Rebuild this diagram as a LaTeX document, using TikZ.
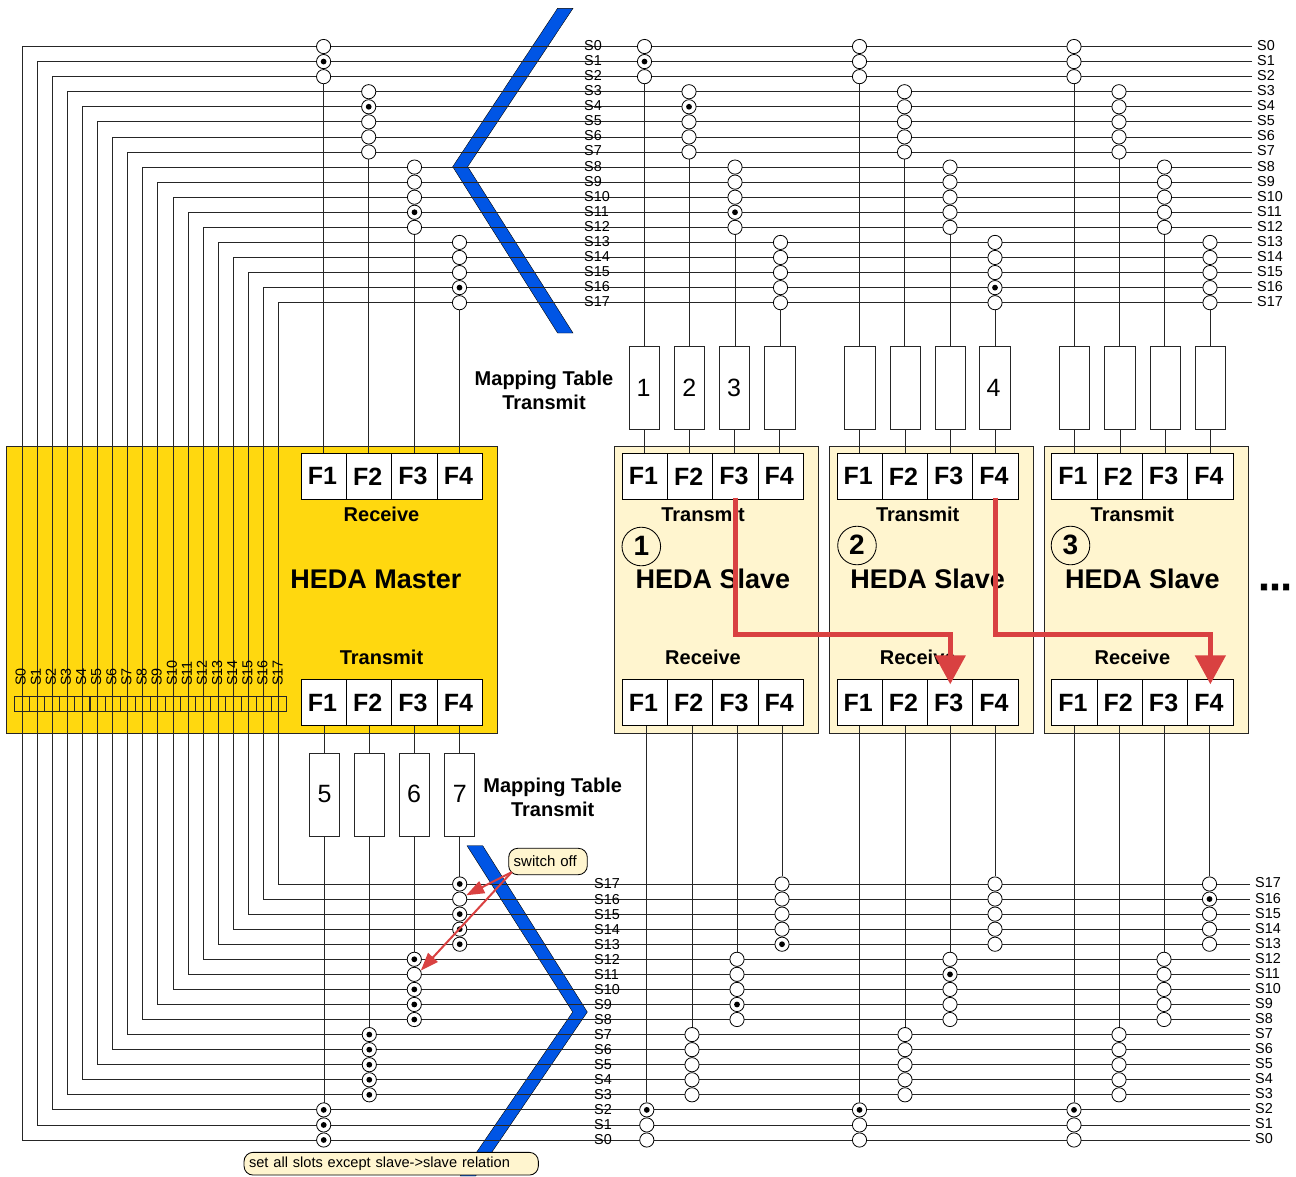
\documentclass[tikz,border=0pt]{standalone}
\usepackage{fontspec}
\setmainfont{Liberation Sans}
\usetikzlibrary{arrows.meta}
\pgfdeclarelayer{bg}
\pgfdeclarelayer{wires}
\pgfsetlayers{bg,wires,main}
\definecolor{masterfill}{RGB}{255,216,15}
\definecolor{slavefill}{RGB}{255,245,207}
\definecolor{chevblue}{RGB}{0,85,229}
\definecolor{arrowred}{RGB}{217,65,65}
\tikzset{
  wire/.style={line width=0.85pt,black!85},
  slot/.style={circle,draw=black,line width=0.8pt,fill=white,minimum size=14.2pt,inner sep=0pt},
  fcell/.style={rectangle,draw=black,line width=0.85pt,fill=white,minimum width=45.3pt,minimum height=46pt,inner sep=0pt,font=\fontsize{25}{25}\selectfont\bfseries},
  mapbox/.style={rectangle,draw=black!85,line width=0.85pt,fill=white,minimum width=30.4pt,minimum height=83pt,inner sep=0pt,font=\fontsize{25}{25}\selectfont},
  bigbox/.style={rectangle,draw=black!85,line width=0.85pt,anchor=north west,inner sep=0pt},
  stripcell/.style={rectangle,draw=black!85,line width=0.7pt,minimum width=15.1pt,minimum height=15.3pt,inner sep=0pt},
  slabel/.style={font=\fontsize{14.4}{14}\selectfont,inner ysep=0pt,inner xsep=0pt,anchor=west},
  rlabel/.style={font=\fontsize{14.4}{14}\selectfont,inner ysep=0pt,inner xsep=5pt,anchor=west},
  striplabel/.style={font=\fontsize{14.4}{14}\selectfont,inner sep=0pt,rotate=90,anchor=west},
  btext/.style={font=\fontsize{20}{20}\selectfont\bfseries,inner sep=0pt},
  bigtext/.style={font=\fontsize{27}{27}\selectfont\bfseries,inner sep=0pt},
  maptext/.style={font=\fontsize{20}{24}\selectfont\bfseries,inner sep=0pt,align=center},
  numcircle/.style={circle,draw=black,line width=0.85pt,minimum size=38.6pt,inner sep=0pt,font=\fontsize{28}{28}\selectfont\bfseries},
  callout/.style={rectangle,rounded corners=9pt,draw=black,line width=0.85pt,fill=slavefill,inner xsep=5pt,inner ysep=0pt,align=left},
  chevron/.style={fill=chevblue,draw=black,line width=0.4pt},
  thinred/.style={arrowred,line width=2pt,-{Triangle[width=13pt,length=18pt]}},
  thickred/.style={arrowred,line width=5pt,line join=miter,-{Triangle[width=30pt,length=29pt]}},
}
% top block of slot circles
\newcommand\topblock[5]{%
  \foreach \a/\b/\cx in {0/2/#2,3/7/#3,8/12/#4,13/17/#5}{%
    \foreach \i in {\a,...,\b}{\node[slot] (#1-\i) at (\cx,{46.5+15.07*\i}) {};}}}
\newcommand\botblock[5]{%
  \foreach \a/\b/\cx in {0/2/#2,3/7/#3,8/12/#4,13/17/#5}{%
    \foreach \i in {\a,...,\b}{\node[slot] (#1-\i) at (\cx,{1140-15.06*\i}) {};}}}
% row of four F cells, #1 name, #2 left x, #3 centre y
\newcommand\frow[3]{%
  \foreach \k in {1,2,3,4}{\node[fcell] (#1-\k) at ({#2+45.3*(\k-0.5)},#3) {F\k\kern3pt};}}
\newcommand\upd[1]{\raisebox{2pt}{#1}}
\begin{document}
\begin{tikzpicture}[x=1pt,y=-1pt]
\useasboundingbox (0,0) rectangle (1296,1176);

% ---------- background shapes
\begin{pgfonlayer}{bg}
  \fill[white] (0,0) rectangle (1296,1176);
  \path[chevron] (557.6,8.3) -- (573,8.3) -- (467.7,166.7) -- (573,333) -- (557.6,333) -- (452.7,166.7) -- cycle;
  \path[chevron] (467,845.7) -- (482.7,845.7) -- (587.3,1012) -- (475.6,1176) -- (460.3,1176) -- (572.7,1012) -- cycle;
  \node[bigbox,fill=masterfill,minimum width=491pt,minimum height=286.7pt] (master) at (6.2,446) {};
  \node[bigbox,fill=slavefill,minimum width=203.4pt,minimum height=286.7pt] (slave1) at (614.2,446) {};
  \node[bigbox,fill=slavefill,minimum width=203.4pt,minimum height=286.7pt] (slave2) at (829.2,446) {};
  \node[bigbox,fill=slavefill,minimum width=203.4pt,minimum height=286.7pt] (slave3) at (1044.2,446) {};
  \foreach \i in {0,...,17}{\node[stripcell] (cell\i) at ({21.85+15.11*\i},703.6) {};}
\end{pgfonlayer}

% ---------- F cells
\frow{Mr}{301.3}{476.3}
\frow{Mt}{301.3}{702.7}
\frow{Ax}{622.2}{476.3}
\frow{Ar}{622.2}{702.7}
\frow{Bx}{837}{476.3}
\frow{Br}{837}{702.7}
\frow{Cx}{1051.8}{476.3}
\frow{Cr}{1051.8}{702.7}

% ---------- mapping boxes
\node[mapbox] (A1) at (644.2,388.4) {\upd{1}\kern1.5pt};
\node[mapbox] (A2) at (689.4,388.4) {\upd{2}};
\node[mapbox] (A3) at (734.7,388.4) {\upd{3}\kern1.5pt};
\node[mapbox] (A4) at (779.8,388.4) {};
\node[mapbox] (B1) at (859.9,388.4) {};
\node[mapbox] (B2) at (905.4,388.4) {};
\node[mapbox] (B3) at (950.6,388.4) {};
\node[mapbox] (B4) at (995,388.4) {\upd{4}\kern3pt};
\node[mapbox] (C1) at (1074.7,388.4) {};
\node[mapbox] (C2) at (1120,388.4) {};
\node[mapbox] (C3) at (1165.3,388.4) {};
\node[mapbox] (C4) at (1210.3,388.4) {};
\node[mapbox] (M1) at (324.5,794.5) {\upd{5}};
\node[mapbox] (M2) at (369.5,794.5) {};
\node[mapbox] (M3) at (414.7,794.5) {\upd{6}\kern1.5pt};
\node[mapbox] (M4) at (459.7,794.5) {\upd{7}};

% ---------- slot circles
\topblock{T0}{323.6}{368.7}{414.5}{459.5}
\topblock{T1}{644.5}{689}{735}{780.5}
\topblock{T2}{859.5}{904.5}{950}{995}
\topblock{T3}{1074}{1119}{1164.5}{1210}
\botblock{D0}{323.7}{369.3}{414.3}{459.7}
\botblock{D1}{646.8}{692}{737}{782}
\botblock{D2}{859.5}{905}{950}{995}
\botblock{D3}{1074}{1119}{1164}{1209.5}
\foreach \n in {T0-1,T0-4,T0-11,T0-16,T1-1,T1-4,T1-11,T2-16,
  D0-0,D0-1,D0-2,D0-3,D0-4,D0-5,D0-6,D0-7,D0-8,D0-9,D0-10,D0-12,D0-13,D0-14,D0-15,D0-17,
  D1-2,D1-9,D1-13,D2-2,D2-11,D3-2,D3-16}{\fill (\n) circle (2.9pt);}

% ---------- slot labels
\foreach \i in {0,...,17}{%
  \coordinate (tl\i) at ({22+15.1*\i},{46.5+15.07*\i});
  \coordinate (bl\i) at ({22+15.1*\i},{1140-15.06*\i});
  \node[slabel] (tm\i) at (584,{45.5+15.07*\i}) {S\i};
  \node[rlabel] (tr\i) at (1252,{45.5+15.07*\i}) {S\i};
  \node[slabel] (bm\i) at (594,{1140-15.06*\i}) {S\i};
  \node[rlabel] (br\i) at (1250,{1139-15.06*\i}) {S\i};
  \node[striplabel] (st\i) at ({20.7+15.11*\i},686) {S\i};
}

% ---------- wires
\begin{pgfonlayer}{wires}
  \foreach \i in {0,...,17}{%
    \draw[wire] (tr\i.west |- tl\i) -- (tl\i) -- (bl\i) -- (bl\i -| br\i.west);}
  \foreach \k/\l in {1/2,2/7,3/12,4/17}{%
    \draw[wire] (T0-\l) -- (T0-\l |- Mr-\k.north);
    \draw[wire] (T1-\l) -- (T1-\l |- A\k.north);
    \draw[wire] (T2-\l) -- (T2-\l |- B\k.north);
    \draw[wire] (T3-\l) -- (T3-\l |- C\k.north);
    \draw[wire] (A\k.south) -- (A\k.south |- Ax-\k.north);
    \draw[wire] (B\k.south) -- (B\k.south |- Bx-\k.north);
    \draw[wire] (C\k.south) -- (C\k.south |- Cx-\k.north);
  }
  \foreach \k/\l in {1/2,2/7,3/12,4/17}{%
    \draw[wire] (M\k.north |- Mt-\k.south) -- (M\k.north);
    \draw[wire] (M\k.south) -- (M\k.south |- D0-\l);
    \draw[wire] (D1-\l |- Ar-\k.south) -- (D1-\l);
    \draw[wire] (D2-\l |- Br-\k.south) -- (D2-\l);
    \draw[wire] (D3-\l |- Cr-\k.south) -- (D3-\l);
  }
\end{pgfonlayer}

% ---------- texts
\node[btext] (mrecv) at (381.5,514) {Receive};
\node[bigtext] (mname) at (376,579) {HEDA Master};
\node[btext] (mxmit) at (381.5,657) {Transmit};
\foreach \s/\cx in {a/703,b/917.7,c/1132.4}{%
  \node[btext] (\s xmit) at (\cx,514.5) {Transmit};
  \node[bigtext] (\s name) at (\cx+10,579) {HEDA Slave};
  \node[btext] (\s recv) at (\cx,657) {Receive};
}
\node[numcircle] (n1) at (641.3,546.5) {\upd{1}};
\node[numcircle] (n2) at (857,545.5) {\upd{2}};
\node[numcircle] (n3) at (1070.5,545.5) {\upd{3}};
\node[font=\fontsize{40}{40}\selectfont\bfseries\addfontfeature{FakeBold=1.5},inner sep=0pt] (more) at (1275,587) {...};
\node[maptext] (maptop) at (544,390.5) {Mapping Table\\Transmit};
\node[maptext] (mapbot) at (552.7,797) {Mapping Table\\Transmit};

% ---------- callouts
\node[callout,font=\fontsize{15}{15}\selectfont,text width=68.6pt,minimum height=26.4pt] (swoff) at (548,861.5) {switch off};
\node[callout,font=\fontsize{14.6}{15}\selectfont,text width=284.3pt,minimum height=22.7pt] (setall) at (391.2,1163.7) {set all slots except slave->slave relation};

% ---------- red arrows
\draw[thinred] ([xshift=3.5pt,yshift=3pt]swoff.south west) -- (D0-16.30);
\draw[thinred] ([xshift=3.5pt,yshift=3pt]swoff.south west) -- (D0-11.30);
\coordinate (elbowA) at (850,634.5);
\coordinate (elbowB) at (1100,634.5);
\draw[thickred] ([yshift=2pt]Ax-3.south) |- (elbowA) -| ([yshift=-5pt]Br-3.north);
\draw[thickred] ([yshift=2pt]Bx-4.south) |- (elbowB) -| ([yshift=-5pt]Cr-4.north);
\end{tikzpicture}
\end{document}
